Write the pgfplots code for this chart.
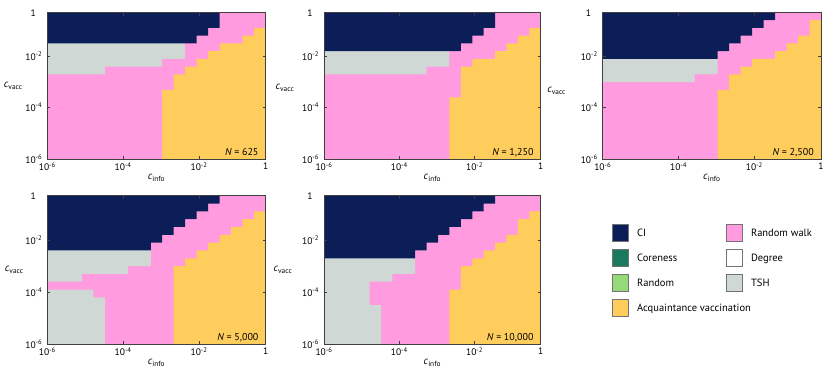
\documentclass[border=0pt]{standalone}
\usepackage{fontspec}
\setmainfont{PT Sans}
\usepackage{pgfplots}
\pgfplotsset{compat=1.18}

\definecolor{ci}{HTML}{0C1E57}
\definecolor{rw}{HTML}{FF9BDE}
\definecolor{av}{HTML}{FECD5C}
\definecolor{tsh}{HTML}{D0D8D6}
\definecolor{core}{HTML}{1A7A60}
\definecolor{rnd}{HTML}{96D978}

% each panel: 19 x 19 grid of (c_info, c_vacc) cells, one cell = one unit
\pgfplotsset{
  panel/.style={
    scale only axis,
    xmin=0, xmax=19, ymin=0, ymax=19,
    axis on top,
    axis background/.style={fill=rw},
    tick align=inside, major tick length=3pt,
    axis line style={black!75, line width=0.5pt},
    tick style={black!75, line width=0.5pt},
    xtick={0,6.6,13.2,19}, ytick={0,6.7,13.35,19},
    xticklabels={10\textsuperscript{-6},10\textsuperscript{-4},10\textsuperscript{-2},1},
    yticklabels={10\textsuperscript{-6},10\textsuperscript{-4},10\textsuperscript{-2},1\textsuperscript{\phantom{-2}}},
    ticklabel style={font=\fontsize{9.5}{11}\selectfont},
    xticklabel style={yshift=0.5pt},
    yticklabel style={xshift=-1.5pt},
    xlabel={\textit{c}\textsubscript{info}},
    ylabel={\textit{c}\textsubscript{vacc}},
    every axis x label/.style={at={(axis description cs:0.5,0)}, anchor=north,
      yshift=-14.5pt, inner sep=0pt, font=\fontsize{10.5}{12}\selectfont},
    every axis y label/.style={at={(axis description cs:0,0.5)}, anchor=center,
      inner sep=0pt, font=\fontsize{10.5}{12}\selectfont},
  },
}
\tikzset{nlab/.style={anchor=base east, font=\fontsize{10}{12}\selectfont}}

\begin{document}
\begin{tikzpicture}
\path[use as bounding box] (0pt,0pt) rectangle (830pt,-370pt);

% N = 625
\begin{axis}[panel, at={(47.3pt,-159.3pt)}, anchor=south west,
  width=218.4pt, height=146.8pt, ylabel style={xshift=-34pt}]
\addplot[fill=av, draw=none] coordinates {(10,0) (10,9) (11,9) (11,11) (12,11) (12,12) (13,12) (13,13) (14,13) (14,14) (15,14) (15,15) (17,15) (17,16) (18,16) (18,17) (19,17) (19,0)};
\addplot[fill=tsh, draw=none] coordinates {(0,19) (12,19) (12,13) (10,13) (10,12) (5,12) (5,11) (0,11)};
\addplot[fill=ci, draw=none] coordinates {(0,19) (0,15) (13,15) (13,16) (14,16) (14,17) (15,17) (15,19)};
\node[nlab] at (rel axis cs:0.983,0.023) {\textit{N} = 625};
\end{axis}

% N = 1,250
\begin{axis}[panel, at={(324pt,-159.3pt)}, anchor=south west,
  width=216.7pt, height=146.8pt, ylabel style={xshift=-39pt, yshift=-2pt}]
\addplot[fill=av, draw=none] coordinates {(11,0) (11,8) (12,8) (12,12) (13,12) (13,13) (15,13) (15,14) (16,14) (16,15) (17,15) (17,16) (18,16) (18,17) (19,17) (19,0)};
\addplot[fill=tsh, draw=none] coordinates {(0,19) (11,19) (11,12) (9,12) (9,11) (0,11)};
\addplot[fill=ci, draw=none] coordinates {(0,19) (0,14) (12,14) (12,15) (13,15) (13,16) (14,16) (14,17) (15,17) (15,19)};
\node[nlab] at (rel axis cs:0.983,0.023) {\textit{N} = 1,250};
\end{axis}

% N = 2,500
\begin{axis}[panel, at={(602.7pt,-159.3pt)}, anchor=south west,
  width=218.3pt, height=146.8pt, ylabel style={xshift=-46pt, yshift=-5pt}]
\addplot[fill=av, draw=none] coordinates {(10,0) (10,9) (11,9) (11,11) (12,11) (12,12) (13,12) (13,13) (15,13) (15,14) (16,14) (16,15) (17,15) (17,16) (18,16) (18,18) (19,18) (19,0)};
\addplot[fill=tsh, draw=none] coordinates {(0,19) (10,19) (10,11) (8,11) (8,10) (0,10)};
\addplot[fill=ci, draw=none] coordinates {(0,19) (0,13) (10,13) (10,14) (11,14) (11,15) (12,15) (12,16) (13,16) (13,17) (14,17) (14,18) (15,18) (15,19)};
\node[nlab] at (rel axis cs:0.983,0.023) {\textit{N} = 2,500};
\end{axis}

% N = 5,000
\begin{axis}[panel, at={(47.3pt,-344.3pt)}, anchor=south west,
  width=218.4pt, height=148.6pt, ylabel style={xshift=-33pt}]
\addplot[fill=av, draw=none] coordinates {(11,0) (11,10) (12,10) (12,11) (13,11) (13,12) (14,12) (14,13) (15,13) (15,14) (16,14) (16,15) (17,15) (17,16) (18,16) (18,17) (19,17) (19,0)};
\addplot[fill=tsh, draw=none] coordinates {(0,19) (9,19) (9,10) (7,10) (7,9) (3,9) (3,8) (0,8)};
\addplot[fill=tsh, draw=none] coordinates {(0,0) (0,7) (4,7) (4,6) (5,6) (5,0)};
\addplot[fill=ci, draw=none] coordinates {(0,19) (0,12) (9,12) (9,13) (10,13) (10,14) (11,14) (11,15) (12,15) (12,16) (13,16) (13,17) (14,17) (14,18) (15,18) (15,19)};
\node[nlab] at (rel axis cs:0.983,0.023) {\textit{N} = 5,000};
\end{axis}

% N = 10,000
\begin{axis}[panel, at={(324pt,-344.3pt)}, anchor=south west,
  width=216.7pt, height=148.6pt, ylabel style={xshift=-41pt}]
\addplot[fill=av, draw=none] coordinates {(11,0) (11,7) (12,7) (12,10) (13,10) (13,11) (14,11) (14,12) (15,12) (15,13) (16,13) (16,14) (17,14) (17,16) (18,16) (18,17) (19,17) (19,0)};
\addplot[fill=tsh, draw=none] coordinates {(0,0) (0,19) (8,19) (8,9) (6,9) (6,8) (4,8) (4,5) (5,5) (5,0)};
\addplot[fill=ci, draw=none] coordinates {(0,19) (0,11) (8,11) (8,12) (9,12) (9,13) (10,13) (10,14) (11,14) (11,15) (12,15) (12,16) (13,16) (13,17) (14,17) (14,18) (15,18) (15,19)};
\node[nlab] at (rel axis cs:0.983,0.023) {\textit{N} = 10,000};
\end{axis}

% legend only
\begin{axis}[hide axis, scale only axis, width=10pt, height=10pt,
  at={(611.7pt,-224pt)}, anchor=north west,
  xmin=0, xmax=1, ymin=0, ymax=1,
  legend columns=2, legend cell align=left,
  legend image code/.code={\draw[draw=black!55, line width=0.6pt, #1] (0pt,-8.25pt) rectangle (16.5pt,8.25pt);},
  legend style={draw=none, fill=none, at={(0,1)}, anchor=north west,
    inner sep=0pt, outer sep=0pt, row sep=8pt,
    font=\fontsize{10.5}{12}\selectfont,
    nodes={inner sep=0pt, anchor=west, text height=7.4pt, text depth=0pt},
    /tikz/every odd column/.append style={column sep=8.4pt}}]
\addlegendimage{fill=ci}
\addlegendentry{\makebox[88.4pt][l]{CI}}
\addlegendimage{fill=rw}
\addlegendentry{Random walk}
\addlegendimage{fill=core}
\addlegendentry{\makebox[88.4pt][l]{Coreness}}
\addlegendimage{fill=white}
\addlegendentry{Degree}
\addlegendimage{fill=rnd}
\addlegendentry{\makebox[88.4pt][l]{Random}}
\addlegendimage{fill=tsh}
\addlegendentry{TSH}
\addlegendimage{fill=av}
\addlegendentry{\makebox[88.4pt][l]{Acquaintance vaccination}}
\end{axis}
\end{tikzpicture}
\end{document}
